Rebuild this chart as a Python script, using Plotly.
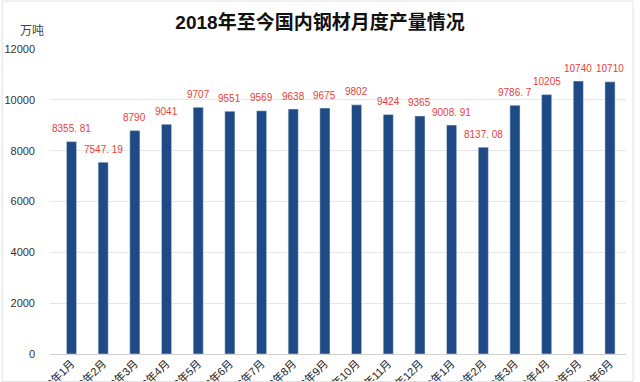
import plotly.graph_objects as go

categories = ["2018年1月", "2018年2月", "2018年3月", "2018年4月", "2018年5月", "2018年6月",
              "2018年7月", "2018年8月", "2018年9月", "2018年10月", "2018年11月", "2018年12月",
              "2019年1月", "2019年2月", "2019年3月", "2019年4月", "2019年5月", "2019年6月"]
values = [8355.81, 7547.19, 8790, 9041, 9707, 9551, 9569, 9638, 9675, 9802, 9424, 9365,
          9008.91, 8137.08, 9786.7, 10205, 10740, 10710]
labels = ["8355. 81", "7547. 19", "8790", "9041", "9707", "9551", "9569", "9638", "9675", "9802",
          "9424", "9365", "9008. 91", "8137. 08", "9786. 7", "10205", "10740", "10710"]

FONT = "Liberation Sans, Noto Sans CJK SC, sans-serif"

fig = go.Figure(go.Bar(
    x=categories, y=values,
    marker=dict(color="#1f4a85"),
))

value_annotations = [
    dict(x=c, y=v, text=t, xref="x", yref="y", showarrow=False, yanchor="middle",
         yshift=13, font=dict(size=10, color="#e8403a", family=FONT))
    for c, v, t in zip(categories, values, labels)
]

fig.update_layout(
    width=640, height=382,
    margin=dict(l=50, r=14, t=49, b=28),
    paper_bgcolor="white", plot_bgcolor="white",
    bargap=0.68,
    showlegend=False,
    title=dict(text="<b>2018年至今国内钢材月度产量情况</b>", x=0.5, xanchor="center",
               y=0.942, yanchor="middle", font=dict(size=19, color="#111", family=FONT)),
    font=dict(family=FONT),
    annotations=value_annotations + [
        dict(text="万吨", xref="paper", yref="paper", x=-0.031, y=1.059,
             xanchor="center", yanchor="middle", showarrow=False,
             font=dict(size=12, color="#444", family=FONT))],
    shapes=[dict(type="rect", xref="paper", yref="paper",
                 x0=-0.083, x1=1.0125, y0=-0.09, y1=1.157,
                 line=dict(color="#e3e3e3", width=1))],
)
fig.update_yaxes(range=[0, 12000], dtick=2000, tickformat="d", showgrid=True, gridcolor="#e6e6e6",
                 zeroline=True, zerolinecolor="#d0d0d0", zerolinewidth=1, automargin=False,
                 tickfont=dict(size=11, color="#333", family=FONT), ticklabelstandoff=14,
                 showline=False)
fig.update_xaxes(tickangle=-45, automargin=False, tickfont=dict(size=11, color="#222", family=FONT),
                 showline=False, ticks="")

fig.write_html("out.html", config={"displayModeBar": False},
               post_script="document.body.style.margin='0';")
